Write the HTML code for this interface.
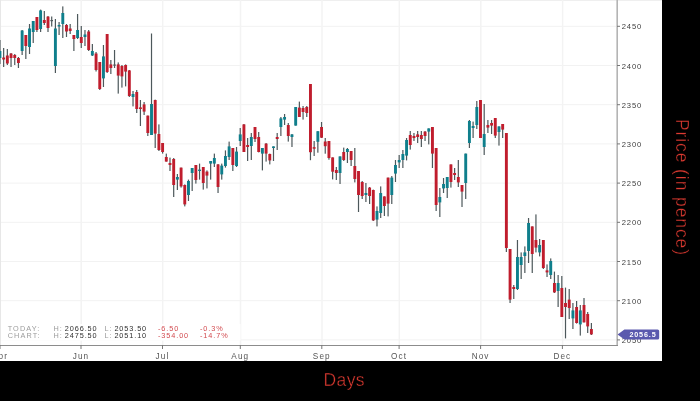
<!DOCTYPE html>
<html><head><meta charset="utf-8"><style>
html,body{margin:0;padding:0;background:#000;width:700px;height:401px;overflow:hidden}
svg{display:block;will-change:transform}
text{font-family:"Liberation Sans",sans-serif}
.yl{font-size:7.6px;fill:#3c3c3c;letter-spacing:0.85px}
.xl{font-size:8.2px;fill:#555;letter-spacing:1.1px}
.it{font-size:7.3px;letter-spacing:0.9px}
.g{fill:#9c9c9c;letter-spacing:1.1px} .k{fill:#2e2e2e} .rd{fill:#d24a4f}
.pl{font-size:7.2px;font-weight:bold;fill:#fff;letter-spacing:0.85px}
.tt{font-size:17.5px;fill:#dc3a31;stroke:#000;stroke-width:0.4px}
</style></head><body>
<svg width="700" height="401" viewBox="0 0 700 401">
<rect x="0" y="0" width="700" height="401" fill="#000"/>
<rect x="0" y="0" width="662" height="361" fill="#fff"/>
<rect x="0" y="0" width="662" height="1" fill="#efefef"/>
<rect x="0" y="339.40" width="616" height="1" fill="#f2f2f2"/>
<rect x="0" y="300.20" width="616" height="1" fill="#f2f2f2"/>
<rect x="0" y="261.00" width="616" height="1" fill="#f2f2f2"/>
<rect x="0" y="221.80" width="616" height="1" fill="#f2f2f2"/>
<rect x="0" y="182.60" width="616" height="1" fill="#f2f2f2"/>
<rect x="0" y="143.40" width="616" height="1" fill="#f2f2f2"/>
<rect x="0" y="104.20" width="616" height="1" fill="#f2f2f2"/>
<rect x="0" y="65.00" width="616" height="1" fill="#f2f2f2"/>
<rect x="0" y="25.80" width="616" height="1" fill="#f2f2f2"/>
<rect x="-0.55" y="0" width="1.5" height="345" fill="#f3f3f3"/>
<rect x="80.45" y="0" width="1.5" height="345" fill="#f3f3f3"/>
<rect x="161.95" y="0" width="1.5" height="345" fill="#f3f3f3"/>
<rect x="239.75" y="0" width="1.5" height="345" fill="#f3f3f3"/>
<rect x="321.25" y="0" width="1.5" height="345" fill="#f3f3f3"/>
<rect x="398.55" y="0" width="1.5" height="345" fill="#f3f3f3"/>
<rect x="480.05" y="0" width="1.5" height="345" fill="#f3f3f3"/>
<rect x="561.85" y="0" width="1.5" height="345" fill="#f3f3f3"/>
<rect x="0" y="0" width="1" height="345" fill="#e7e7e7"/>
<rect x="-0.65" y="40.00" width="1.2" height="24.00" fill="#4d585b"/>
<rect x="-1.50" y="51.00" width="2.9" height="7.00" fill="#0f7f8c"/>
<rect x="3.05" y="48.00" width="1.2" height="19.00" fill="#4d585b"/>
<rect x="2.20" y="57.50" width="2.9" height="2.00" fill="#c01d2d"/>
<rect x="6.74" y="49.00" width="1.2" height="16.00" fill="#4d585b"/>
<rect x="5.89" y="55.50" width="2.9" height="8.00" fill="#c01d2d"/>
<rect x="10.44" y="53.00" width="1.2" height="14.00" fill="#4d585b"/>
<rect x="9.59" y="53.50" width="2.9" height="4.50" fill="#c01d2d"/>
<rect x="14.14" y="54.00" width="1.2" height="11.00" fill="#4d585b"/>
<rect x="13.29" y="55.00" width="2.9" height="3.00" fill="#c01d2d"/>
<rect x="17.83" y="57.00" width="1.2" height="11.00" fill="#4d585b"/>
<rect x="16.98" y="58.00" width="2.9" height="5.00" fill="#c01d2d"/>
<rect x="21.53" y="30.00" width="1.2" height="25.00" fill="#4d585b"/>
<rect x="20.68" y="30.50" width="2.9" height="20.50" fill="#0f7f8c"/>
<rect x="25.23" y="35.00" width="1.2" height="24.00" fill="#4d585b"/>
<rect x="24.38" y="35.00" width="2.9" height="11.00" fill="#c01d2d"/>
<rect x="28.92" y="24.00" width="1.2" height="30.00" fill="#4d585b"/>
<rect x="28.07" y="28.50" width="2.9" height="18.50" fill="#0f7f8c"/>
<rect x="32.62" y="21.00" width="1.2" height="22.00" fill="#4d585b"/>
<rect x="31.77" y="21.00" width="2.9" height="11.00" fill="#0f7f8c"/>
<rect x="36.31" y="17.00" width="1.2" height="15.00" fill="#4d585b"/>
<rect x="35.46" y="17.00" width="2.9" height="13.00" fill="#c01d2d"/>
<rect x="40.01" y="9.60" width="1.2" height="22.40" fill="#4d585b"/>
<rect x="39.16" y="10.40" width="2.9" height="18.60" fill="#0f7f8c"/>
<rect x="43.71" y="11.00" width="1.2" height="14.00" fill="#4d585b"/>
<rect x="42.86" y="20.00" width="2.9" height="3.00" fill="#c01d2d"/>
<rect x="47.40" y="16.00" width="1.2" height="16.00" fill="#4d585b"/>
<rect x="46.55" y="16.60" width="2.9" height="11.40" fill="#c01d2d"/>
<rect x="51.10" y="16.50" width="1.2" height="10.00" fill="#4d585b"/>
<rect x="50.40" y="20.00" width="2.6" height="1.20" fill="#4d585b"/>
<rect x="54.80" y="19.00" width="1.2" height="54.00" fill="#4d585b"/>
<rect x="53.95" y="28.50" width="2.9" height="37.50" fill="#0f7f8c"/>
<rect x="58.49" y="22.00" width="1.2" height="13.00" fill="#4d585b"/>
<rect x="57.64" y="25.00" width="2.9" height="1.50" fill="#0f7f8c"/>
<rect x="62.19" y="6.40" width="1.2" height="31.60" fill="#4d585b"/>
<rect x="61.34" y="13.00" width="2.9" height="11.00" fill="#0f7f8c"/>
<rect x="65.89" y="24.00" width="1.2" height="13.00" fill="#4d585b"/>
<rect x="65.04" y="25.00" width="2.9" height="6.50" fill="#c01d2d"/>
<rect x="69.58" y="24.00" width="1.2" height="10.00" fill="#4d585b"/>
<rect x="68.73" y="28.50" width="2.9" height="2.50" fill="#c01d2d"/>
<rect x="73.28" y="35.00" width="1.2" height="16.00" fill="#4d585b"/>
<rect x="72.43" y="35.00" width="2.9" height="4.00" fill="#c01d2d"/>
<rect x="76.98" y="14.00" width="1.2" height="25.00" fill="#4d585b"/>
<rect x="76.13" y="30.00" width="2.9" height="8.00" fill="#0f7f8c"/>
<rect x="80.67" y="26.00" width="1.2" height="22.00" fill="#4d585b"/>
<rect x="79.82" y="37.00" width="2.9" height="6.00" fill="#c01d2d"/>
<rect x="84.37" y="30.00" width="1.2" height="16.00" fill="#4d585b"/>
<rect x="83.52" y="34.50" width="2.9" height="2.50" fill="#0f7f8c"/>
<rect x="88.07" y="30.00" width="1.2" height="21.00" fill="#4d585b"/>
<rect x="87.22" y="31.50" width="2.9" height="18.50" fill="#c01d2d"/>
<rect x="91.76" y="44.00" width="1.2" height="12.00" fill="#4d585b"/>
<rect x="90.91" y="51.00" width="2.9" height="4.50" fill="#0f7f8c"/>
<rect x="95.46" y="52.00" width="1.2" height="19.50" fill="#4d585b"/>
<rect x="94.61" y="53.50" width="2.9" height="16.50" fill="#c01d2d"/>
<rect x="99.16" y="62.00" width="1.2" height="28.00" fill="#4d585b"/>
<rect x="98.31" y="62.00" width="2.9" height="27.00" fill="#c01d2d"/>
<rect x="102.85" y="45.00" width="1.2" height="42.00" fill="#4d585b"/>
<rect x="102.00" y="56.40" width="2.9" height="22.00" fill="#0f7f8c"/>
<rect x="106.55" y="34.00" width="1.2" height="39.00" fill="#4d585b"/>
<rect x="105.70" y="34.00" width="2.9" height="38.00" fill="#c01d2d"/>
<rect x="110.25" y="60.00" width="1.2" height="14.00" fill="#4d585b"/>
<rect x="109.39" y="64.40" width="2.9" height="3.60" fill="#c01d2d"/>
<rect x="113.94" y="50.00" width="1.2" height="18.00" fill="#4d585b"/>
<rect x="113.24" y="64.50" width="2.6" height="1.20" fill="#4d585b"/>
<rect x="117.64" y="62.40" width="1.2" height="31.20" fill="#4d585b"/>
<rect x="116.79" y="64.40" width="2.9" height="11.20" fill="#c01d2d"/>
<rect x="121.33" y="65.00" width="1.2" height="22.60" fill="#4d585b"/>
<rect x="120.48" y="66.00" width="2.9" height="10.40" fill="#c01d2d"/>
<rect x="125.03" y="64.40" width="1.2" height="22.00" fill="#4d585b"/>
<rect x="124.18" y="65.00" width="2.9" height="6.60" fill="#c01d2d"/>
<rect x="128.73" y="70.00" width="1.2" height="27.00" fill="#4d585b"/>
<rect x="127.88" y="70.40" width="2.9" height="25.60" fill="#c01d2d"/>
<rect x="132.42" y="91.00" width="1.2" height="15.40" fill="#4d585b"/>
<rect x="131.57" y="94.00" width="2.9" height="3.00" fill="#0f7f8c"/>
<rect x="136.12" y="90.00" width="1.2" height="23.00" fill="#4d585b"/>
<rect x="135.27" y="92.00" width="2.9" height="17.00" fill="#c01d2d"/>
<rect x="139.82" y="100.00" width="1.2" height="26.00" fill="#4d585b"/>
<rect x="138.97" y="107.40" width="2.9" height="1.60" fill="#c01d2d"/>
<rect x="143.51" y="102.00" width="1.2" height="13.00" fill="#4d585b"/>
<rect x="142.66" y="104.40" width="2.9" height="7.20" fill="#c01d2d"/>
<rect x="147.21" y="115.60" width="1.2" height="20.40" fill="#4d585b"/>
<rect x="146.36" y="115.60" width="2.9" height="17.40" fill="#c01d2d"/>
<rect x="150.91" y="33.50" width="1.2" height="101.50" fill="#4d585b"/>
<rect x="150.06" y="104.00" width="2.9" height="31.00" fill="#0f7f8c"/>
<rect x="154.60" y="99.60" width="1.2" height="48.40" fill="#4d585b"/>
<rect x="153.75" y="100.00" width="2.9" height="33.60" fill="#c01d2d"/>
<rect x="158.30" y="124.40" width="1.2" height="26.60" fill="#4d585b"/>
<rect x="157.45" y="134.00" width="2.9" height="16.00" fill="#c01d2d"/>
<rect x="162.00" y="143.00" width="1.2" height="10.60" fill="#4d585b"/>
<rect x="161.15" y="143.00" width="2.9" height="9.00" fill="#c01d2d"/>
<rect x="165.69" y="153.60" width="1.2" height="8.00" fill="#4d585b"/>
<rect x="164.84" y="157.00" width="2.9" height="4.60" fill="#c01d2d"/>
<rect x="169.39" y="157.60" width="1.2" height="13.40" fill="#4d585b"/>
<rect x="168.54" y="163.00" width="2.9" height="2.00" fill="#c01d2d"/>
<rect x="173.09" y="158.00" width="1.2" height="39.00" fill="#4d585b"/>
<rect x="172.24" y="159.00" width="2.9" height="26.00" fill="#c01d2d"/>
<rect x="176.78" y="174.00" width="1.2" height="16.00" fill="#4d585b"/>
<rect x="175.93" y="177.00" width="2.9" height="2.60" fill="#0f7f8c"/>
<rect x="180.48" y="167.60" width="1.2" height="20.00" fill="#4d585b"/>
<rect x="179.63" y="167.60" width="2.9" height="18.80" fill="#c01d2d"/>
<rect x="184.17" y="184.40" width="1.2" height="22.00" fill="#4d585b"/>
<rect x="183.32" y="185.00" width="2.9" height="19.40" fill="#c01d2d"/>
<rect x="187.87" y="179.60" width="1.2" height="21.40" fill="#4d585b"/>
<rect x="187.02" y="181.00" width="2.9" height="14.00" fill="#0f7f8c"/>
<rect x="191.57" y="168.00" width="1.2" height="23.00" fill="#4d585b"/>
<rect x="190.72" y="168.00" width="2.9" height="5.00" fill="#0f7f8c"/>
<rect x="195.26" y="165.00" width="1.2" height="18.60" fill="#4d585b"/>
<rect x="194.41" y="165.00" width="2.9" height="15.00" fill="#c01d2d"/>
<rect x="198.96" y="163.60" width="1.2" height="16.00" fill="#4d585b"/>
<rect x="198.11" y="169.60" width="2.9" height="1.40" fill="#0f7f8c"/>
<rect x="202.66" y="167.00" width="1.2" height="22.60" fill="#4d585b"/>
<rect x="201.81" y="167.00" width="2.9" height="16.00" fill="#c01d2d"/>
<rect x="206.35" y="170.40" width="1.2" height="18.00" fill="#4d585b"/>
<rect x="205.50" y="171.60" width="2.9" height="4.00" fill="#c01d2d"/>
<rect x="210.05" y="161.00" width="1.2" height="18.60" fill="#4d585b"/>
<rect x="209.20" y="161.00" width="2.9" height="2.60" fill="#0f7f8c"/>
<rect x="213.75" y="153.60" width="1.2" height="13.40" fill="#4d585b"/>
<rect x="212.90" y="158.00" width="2.9" height="5.60" fill="#0f7f8c"/>
<rect x="217.44" y="164.00" width="1.2" height="29.00" fill="#4d585b"/>
<rect x="216.59" y="164.40" width="2.9" height="22.60" fill="#c01d2d"/>
<rect x="221.14" y="163.60" width="1.2" height="16.00" fill="#4d585b"/>
<rect x="220.29" y="165.60" width="2.9" height="8.80" fill="#0f7f8c"/>
<rect x="224.84" y="150.40" width="1.2" height="17.20" fill="#4d585b"/>
<rect x="223.99" y="156.00" width="2.9" height="10.00" fill="#0f7f8c"/>
<rect x="228.53" y="141.60" width="1.2" height="18.40" fill="#4d585b"/>
<rect x="227.68" y="146.40" width="2.9" height="10.60" fill="#0f7f8c"/>
<rect x="232.23" y="148.00" width="1.2" height="23.00" fill="#4d585b"/>
<rect x="231.38" y="148.00" width="2.9" height="17.00" fill="#c01d2d"/>
<rect x="235.93" y="147.00" width="1.2" height="20.00" fill="#4d585b"/>
<rect x="235.08" y="151.60" width="2.9" height="14.40" fill="#0f7f8c"/>
<rect x="239.62" y="128.00" width="1.2" height="18.00" fill="#4d585b"/>
<rect x="238.77" y="134.40" width="2.9" height="6.60" fill="#0f7f8c"/>
<rect x="243.32" y="124.00" width="1.2" height="28.00" fill="#4d585b"/>
<rect x="242.47" y="124.40" width="2.9" height="27.60" fill="#c01d2d"/>
<rect x="247.02" y="138.00" width="1.2" height="23.00" fill="#4d585b"/>
<rect x="246.17" y="145.00" width="2.9" height="2.00" fill="#c01d2d"/>
<rect x="250.71" y="133.00" width="1.2" height="27.00" fill="#4d585b"/>
<rect x="249.86" y="137.00" width="2.9" height="9.00" fill="#0f7f8c"/>
<rect x="254.41" y="127.00" width="1.2" height="15.00" fill="#4d585b"/>
<rect x="253.56" y="127.00" width="2.9" height="12.00" fill="#c01d2d"/>
<rect x="258.10" y="132.00" width="1.2" height="20.40" fill="#4d585b"/>
<rect x="257.25" y="137.00" width="2.9" height="15.00" fill="#c01d2d"/>
<rect x="261.80" y="148.00" width="1.2" height="22.40" fill="#4d585b"/>
<rect x="260.95" y="148.00" width="2.9" height="5.60" fill="#0f7f8c"/>
<rect x="265.50" y="143.00" width="1.2" height="18.60" fill="#4d585b"/>
<rect x="264.65" y="143.60" width="2.9" height="10.00" fill="#c01d2d"/>
<rect x="269.19" y="153.60" width="1.2" height="10.80" fill="#4d585b"/>
<rect x="268.34" y="154.00" width="2.9" height="6.40" fill="#c01d2d"/>
<rect x="272.89" y="146.40" width="1.2" height="14.60" fill="#4d585b"/>
<rect x="272.04" y="146.40" width="2.9" height="1.60" fill="#0f7f8c"/>
<rect x="276.59" y="133.00" width="1.2" height="17.00" fill="#4d585b"/>
<rect x="275.74" y="137.00" width="2.9" height="2.00" fill="#c01d2d"/>
<rect x="280.28" y="117.00" width="1.2" height="19.00" fill="#4d585b"/>
<rect x="279.43" y="118.40" width="2.9" height="8.60" fill="#0f7f8c"/>
<rect x="283.98" y="114.00" width="1.2" height="11.00" fill="#4d585b"/>
<rect x="283.13" y="117.00" width="2.9" height="2.60" fill="#0f7f8c"/>
<rect x="287.68" y="123.00" width="1.2" height="18.60" fill="#4d585b"/>
<rect x="286.83" y="125.00" width="2.9" height="11.00" fill="#c01d2d"/>
<rect x="291.37" y="134.00" width="1.2" height="13.00" fill="#4d585b"/>
<rect x="290.52" y="134.40" width="2.9" height="2.60" fill="#0f7f8c"/>
<rect x="295.07" y="107.00" width="1.2" height="18.60" fill="#4d585b"/>
<rect x="294.22" y="107.00" width="2.9" height="18.60" fill="#0f7f8c"/>
<rect x="298.77" y="101.60" width="1.2" height="15.40" fill="#4d585b"/>
<rect x="297.92" y="107.60" width="2.9" height="9.40" fill="#c01d2d"/>
<rect x="302.46" y="106.00" width="1.2" height="13.60" fill="#4d585b"/>
<rect x="301.61" y="108.00" width="2.9" height="4.00" fill="#c01d2d"/>
<rect x="306.16" y="106.00" width="1.2" height="11.00" fill="#4d585b"/>
<rect x="305.31" y="107.00" width="2.9" height="6.00" fill="#c01d2d"/>
<rect x="309.86" y="84.00" width="1.2" height="76.20" fill="#4d585b"/>
<rect x="309.01" y="84.00" width="2.9" height="68.20" fill="#c01d2d"/>
<rect x="313.55" y="141.00" width="1.2" height="15.00" fill="#4d585b"/>
<rect x="312.70" y="147.20" width="2.9" height="1.50" fill="#c01d2d"/>
<rect x="317.25" y="131.20" width="1.2" height="21.50" fill="#4d585b"/>
<rect x="316.40" y="131.20" width="2.9" height="10.60" fill="#0f7f8c"/>
<rect x="320.95" y="122.00" width="1.2" height="16.00" fill="#4d585b"/>
<rect x="320.10" y="127.00" width="2.9" height="10.70" fill="#c01d2d"/>
<rect x="324.64" y="138.00" width="1.2" height="15.70" fill="#4d585b"/>
<rect x="323.79" y="141.50" width="2.9" height="4.70" fill="#c01d2d"/>
<rect x="328.34" y="141.00" width="1.2" height="18.70" fill="#4d585b"/>
<rect x="327.49" y="141.00" width="2.9" height="17.00" fill="#c01d2d"/>
<rect x="332.03" y="157.40" width="1.2" height="22.00" fill="#4d585b"/>
<rect x="331.19" y="157.40" width="2.9" height="14.30" fill="#c01d2d"/>
<rect x="335.73" y="167.00" width="1.2" height="13.00" fill="#4d585b"/>
<rect x="334.88" y="170.00" width="2.9" height="3.00" fill="#c01d2d"/>
<rect x="339.43" y="156.40" width="1.2" height="27.60" fill="#4d585b"/>
<rect x="338.58" y="156.40" width="2.9" height="16.60" fill="#0f7f8c"/>
<rect x="343.12" y="147.60" width="1.2" height="13.40" fill="#4d585b"/>
<rect x="342.27" y="152.00" width="2.9" height="8.00" fill="#c01d2d"/>
<rect x="346.82" y="148.00" width="1.2" height="15.00" fill="#4d585b"/>
<rect x="345.97" y="149.00" width="2.9" height="3.00" fill="#0f7f8c"/>
<rect x="350.52" y="151.00" width="1.2" height="15.00" fill="#4d585b"/>
<rect x="349.67" y="151.00" width="2.9" height="9.00" fill="#c01d2d"/>
<rect x="354.21" y="148.00" width="1.2" height="34.40" fill="#4d585b"/>
<rect x="353.36" y="166.00" width="2.9" height="13.00" fill="#c01d2d"/>
<rect x="357.91" y="171.00" width="1.2" height="41.00" fill="#4d585b"/>
<rect x="357.06" y="171.00" width="2.9" height="24.00" fill="#c01d2d"/>
<rect x="361.61" y="181.00" width="1.2" height="18.00" fill="#4d585b"/>
<rect x="360.76" y="182.00" width="2.9" height="14.00" fill="#c01d2d"/>
<rect x="365.30" y="183.00" width="1.2" height="19.00" fill="#4d585b"/>
<rect x="364.45" y="193.00" width="2.9" height="2.00" fill="#0f7f8c"/>
<rect x="369.00" y="187.00" width="1.2" height="17.00" fill="#4d585b"/>
<rect x="368.15" y="187.60" width="2.9" height="8.40" fill="#c01d2d"/>
<rect x="372.70" y="189.60" width="1.2" height="31.40" fill="#4d585b"/>
<rect x="371.85" y="190.00" width="2.9" height="30.40" fill="#c01d2d"/>
<rect x="376.39" y="206.40" width="1.2" height="20.00" fill="#4d585b"/>
<rect x="375.54" y="211.00" width="2.9" height="8.60" fill="#0f7f8c"/>
<rect x="380.09" y="186.40" width="1.2" height="31.60" fill="#4d585b"/>
<rect x="379.24" y="193.00" width="2.9" height="20.00" fill="#0f7f8c"/>
<rect x="383.79" y="196.40" width="1.2" height="19.60" fill="#4d585b"/>
<rect x="382.94" y="196.40" width="2.9" height="9.60" fill="#c01d2d"/>
<rect x="387.48" y="177.60" width="1.2" height="38.80" fill="#4d585b"/>
<rect x="386.63" y="177.60" width="2.9" height="26.00" fill="#c01d2d"/>
<rect x="391.18" y="176.00" width="1.2" height="28.00" fill="#4d585b"/>
<rect x="390.33" y="177.60" width="2.9" height="17.40" fill="#0f7f8c"/>
<rect x="394.88" y="160.00" width="1.2" height="22.00" fill="#4d585b"/>
<rect x="394.03" y="165.00" width="2.9" height="8.60" fill="#0f7f8c"/>
<rect x="398.57" y="155.00" width="1.2" height="13.00" fill="#4d585b"/>
<rect x="397.72" y="160.00" width="2.9" height="2.40" fill="#0f7f8c"/>
<rect x="402.27" y="150.00" width="1.2" height="18.00" fill="#4d585b"/>
<rect x="401.42" y="154.00" width="2.9" height="6.00" fill="#0f7f8c"/>
<rect x="405.96" y="138.00" width="1.2" height="22.40" fill="#4d585b"/>
<rect x="405.12" y="140.00" width="2.9" height="15.60" fill="#0f7f8c"/>
<rect x="409.66" y="131.00" width="1.2" height="18.60" fill="#4d585b"/>
<rect x="408.81" y="135.00" width="2.9" height="10.00" fill="#c01d2d"/>
<rect x="413.36" y="133.00" width="1.2" height="8.00" fill="#4d585b"/>
<rect x="412.51" y="136.00" width="2.9" height="2.00" fill="#c01d2d"/>
<rect x="417.05" y="131.00" width="1.2" height="12.00" fill="#4d585b"/>
<rect x="416.20" y="134.40" width="2.9" height="2.60" fill="#c01d2d"/>
<rect x="420.75" y="131.00" width="1.2" height="16.00" fill="#4d585b"/>
<rect x="419.90" y="135.00" width="2.9" height="4.00" fill="#c01d2d"/>
<rect x="424.45" y="131.00" width="1.2" height="10.00" fill="#4d585b"/>
<rect x="423.60" y="131.60" width="2.9" height="4.40" fill="#c01d2d"/>
<rect x="428.14" y="128.40" width="1.2" height="16.00" fill="#4d585b"/>
<rect x="427.29" y="128.40" width="2.9" height="3.20" fill="#0f7f8c"/>
<rect x="431.84" y="127.00" width="1.2" height="41.00" fill="#4d585b"/>
<rect x="430.99" y="127.00" width="2.9" height="26.60" fill="#c01d2d"/>
<rect x="435.54" y="148.00" width="1.2" height="63.00" fill="#4d585b"/>
<rect x="434.69" y="148.00" width="2.9" height="57.00" fill="#c01d2d"/>
<rect x="439.23" y="188.00" width="1.2" height="29.00" fill="#4d585b"/>
<rect x="438.38" y="197.00" width="2.9" height="5.40" fill="#0f7f8c"/>
<rect x="442.93" y="178.00" width="1.2" height="15.00" fill="#4d585b"/>
<rect x="442.08" y="184.00" width="2.9" height="4.40" fill="#0f7f8c"/>
<rect x="446.63" y="177.00" width="1.2" height="21.00" fill="#4d585b"/>
<rect x="445.78" y="177.00" width="2.9" height="11.00" fill="#0f7f8c"/>
<rect x="450.32" y="164.40" width="1.2" height="23.20" fill="#4d585b"/>
<rect x="449.47" y="164.40" width="2.9" height="17.60" fill="#c01d2d"/>
<rect x="454.02" y="168.00" width="1.2" height="12.00" fill="#4d585b"/>
<rect x="453.17" y="173.00" width="2.9" height="2.00" fill="#c01d2d"/>
<rect x="457.72" y="160.00" width="1.2" height="27.00" fill="#4d585b"/>
<rect x="456.87" y="177.00" width="2.9" height="5.40" fill="#c01d2d"/>
<rect x="461.41" y="185.00" width="1.2" height="22.00" fill="#4d585b"/>
<rect x="460.56" y="185.00" width="2.9" height="6.60" fill="#c01d2d"/>
<rect x="465.11" y="153.60" width="1.2" height="45.40" fill="#4d585b"/>
<rect x="464.26" y="153.60" width="2.9" height="29.40" fill="#0f7f8c"/>
<rect x="468.81" y="120.00" width="1.2" height="28.00" fill="#4d585b"/>
<rect x="467.96" y="121.00" width="2.9" height="22.00" fill="#0f7f8c"/>
<rect x="472.50" y="121.60" width="1.2" height="16.40" fill="#4d585b"/>
<rect x="471.65" y="126.00" width="2.9" height="2.00" fill="#0f7f8c"/>
<rect x="476.20" y="101.00" width="1.2" height="28.00" fill="#4d585b"/>
<rect x="475.35" y="107.00" width="2.9" height="18.00" fill="#0f7f8c"/>
<rect x="479.89" y="100.00" width="1.2" height="38.00" fill="#4d585b"/>
<rect x="479.04" y="100.00" width="2.9" height="38.00" fill="#c01d2d"/>
<rect x="483.59" y="104.00" width="1.2" height="51.00" fill="#4d585b"/>
<rect x="482.74" y="134.00" width="2.9" height="13.00" fill="#0f7f8c"/>
<rect x="487.29" y="120.00" width="1.2" height="13.00" fill="#4d585b"/>
<rect x="486.44" y="125.00" width="2.9" height="2.60" fill="#c01d2d"/>
<rect x="490.98" y="120.00" width="1.2" height="14.00" fill="#4d585b"/>
<rect x="490.13" y="123.00" width="2.9" height="2.60" fill="#c01d2d"/>
<rect x="494.68" y="118.00" width="1.2" height="20.00" fill="#4d585b"/>
<rect x="493.83" y="118.00" width="2.9" height="17.60" fill="#c01d2d"/>
<rect x="498.38" y="126.40" width="1.2" height="19.20" fill="#4d585b"/>
<rect x="497.53" y="126.40" width="2.9" height="5.60" fill="#0f7f8c"/>
<rect x="502.07" y="124.00" width="1.2" height="14.00" fill="#4d585b"/>
<rect x="501.22" y="124.00" width="2.9" height="5.60" fill="#c01d2d"/>
<rect x="505.77" y="133.00" width="1.2" height="119.00" fill="#4d585b"/>
<rect x="504.92" y="133.00" width="2.9" height="115.00" fill="#c01d2d"/>
<rect x="509.47" y="249.00" width="1.2" height="54.00" fill="#4d585b"/>
<rect x="508.62" y="249.00" width="2.9" height="50.60" fill="#c01d2d"/>
<rect x="513.16" y="285.00" width="1.2" height="14.00" fill="#4d585b"/>
<rect x="512.31" y="287.00" width="2.9" height="2.00" fill="#c01d2d"/>
<rect x="516.86" y="240.00" width="1.2" height="50.00" fill="#4d585b"/>
<rect x="516.01" y="257.00" width="2.9" height="32.00" fill="#0f7f8c"/>
<rect x="520.56" y="252.40" width="1.2" height="26.60" fill="#4d585b"/>
<rect x="519.71" y="257.00" width="2.9" height="8.00" fill="#0f7f8c"/>
<rect x="524.25" y="246.40" width="1.2" height="26.60" fill="#4d585b"/>
<rect x="523.40" y="252.40" width="2.9" height="3.60" fill="#0f7f8c"/>
<rect x="527.95" y="218.00" width="1.2" height="45.00" fill="#4d585b"/>
<rect x="527.10" y="223.00" width="2.9" height="28.00" fill="#0f7f8c"/>
<rect x="531.65" y="226.40" width="1.2" height="46.60" fill="#4d585b"/>
<rect x="530.80" y="226.40" width="2.9" height="27.60" fill="#c01d2d"/>
<rect x="535.34" y="214.40" width="1.2" height="38.00" fill="#4d585b"/>
<rect x="534.49" y="240.00" width="2.9" height="7.60" fill="#c01d2d"/>
<rect x="539.04" y="239.00" width="1.2" height="17.40" fill="#4d585b"/>
<rect x="538.19" y="245.00" width="2.9" height="7.40" fill="#0f7f8c"/>
<rect x="542.74" y="240.00" width="1.2" height="29.00" fill="#4d585b"/>
<rect x="541.89" y="240.00" width="2.9" height="28.00" fill="#c01d2d"/>
<rect x="546.43" y="264.40" width="1.2" height="12.60" fill="#4d585b"/>
<rect x="545.58" y="270.40" width="2.9" height="2.00" fill="#c01d2d"/>
<rect x="550.13" y="258.40" width="1.2" height="20.60" fill="#4d585b"/>
<rect x="549.28" y="261.00" width="2.9" height="14.00" fill="#0f7f8c"/>
<rect x="553.83" y="271.60" width="1.2" height="21.40" fill="#4d585b"/>
<rect x="552.98" y="283.00" width="2.9" height="9.40" fill="#c01d2d"/>
<rect x="557.52" y="275.00" width="1.2" height="32.00" fill="#4d585b"/>
<rect x="556.67" y="283.00" width="2.9" height="8.00" fill="#0f7f8c"/>
<rect x="561.22" y="276.00" width="1.2" height="41.00" fill="#4d585b"/>
<rect x="560.37" y="288.00" width="2.9" height="29.00" fill="#c01d2d"/>
<rect x="564.91" y="287.60" width="1.2" height="50.80" fill="#4d585b"/>
<rect x="564.06" y="303.00" width="2.9" height="4.00" fill="#c01d2d"/>
<rect x="568.61" y="289.00" width="1.2" height="30.00" fill="#4d585b"/>
<rect x="567.76" y="299.60" width="2.9" height="8.40" fill="#c01d2d"/>
<rect x="572.31" y="303.00" width="1.2" height="26.00" fill="#4d585b"/>
<rect x="571.46" y="310.40" width="2.9" height="8.00" fill="#0f7f8c"/>
<rect x="576.00" y="301.00" width="1.2" height="22.60" fill="#4d585b"/>
<rect x="575.15" y="307.00" width="2.9" height="16.00" fill="#c01d2d"/>
<rect x="579.70" y="305.00" width="1.2" height="30.60" fill="#4d585b"/>
<rect x="578.85" y="310.40" width="2.9" height="14.00" fill="#0f7f8c"/>
<rect x="583.40" y="298.00" width="1.2" height="24.40" fill="#4d585b"/>
<rect x="582.55" y="305.00" width="2.9" height="17.40" fill="#c01d2d"/>
<rect x="587.09" y="312.00" width="1.2" height="21.00" fill="#4d585b"/>
<rect x="586.24" y="314.00" width="2.9" height="12.40" fill="#c01d2d"/>
<rect x="590.79" y="323.00" width="1.2" height="12.00" fill="#4d585b"/>
<rect x="589.94" y="329.00" width="2.9" height="5.40" fill="#c01d2d"/>
<rect x="616.4" y="0" width="1.6" height="345.8" fill="#b4b4b4"/>
<rect x="0" y="345" width="618" height="1" fill="#8c8c8c"/>
<rect x="617" y="339.40" width="3" height="1" fill="#777"/>
<text x="621.8" y="342.90" class="yl">2050</text>
<rect x="617" y="300.20" width="3" height="1" fill="#777"/>
<text x="621.8" y="303.70" class="yl">2100</text>
<rect x="617" y="261.00" width="3" height="1" fill="#777"/>
<text x="621.8" y="264.50" class="yl">2150</text>
<rect x="617" y="221.80" width="3" height="1" fill="#777"/>
<text x="621.8" y="225.30" class="yl">2200</text>
<rect x="617" y="182.60" width="3" height="1" fill="#777"/>
<text x="621.8" y="186.10" class="yl">2250</text>
<rect x="617" y="143.40" width="3" height="1" fill="#777"/>
<text x="621.8" y="146.90" class="yl">2300</text>
<rect x="617" y="104.20" width="3" height="1" fill="#777"/>
<text x="621.8" y="107.70" class="yl">2350</text>
<rect x="617" y="65.00" width="3" height="1" fill="#777"/>
<text x="621.8" y="68.50" class="yl">2400</text>
<rect x="617" y="25.80" width="3" height="1" fill="#777"/>
<text x="621.8" y="29.30" class="yl">2450</text>
<rect x="-0.50" y="345" width="1" height="4" fill="#777"/>
<text x="0.00" y="358.9" class="xl" text-anchor="middle">Apr</text>
<rect x="80.50" y="345" width="1" height="4" fill="#777"/>
<text x="81.00" y="358.9" class="xl" text-anchor="middle">Jun</text>
<rect x="162.00" y="345" width="1" height="4" fill="#777"/>
<text x="162.50" y="358.9" class="xl" text-anchor="middle">Jul</text>
<rect x="239.80" y="345" width="1" height="4" fill="#777"/>
<text x="240.30" y="358.9" class="xl" text-anchor="middle">Aug</text>
<rect x="321.30" y="345" width="1" height="4" fill="#777"/>
<text x="321.80" y="358.9" class="xl" text-anchor="middle">Sep</text>
<rect x="398.60" y="345" width="1" height="4" fill="#777"/>
<text x="399.10" y="358.9" class="xl" text-anchor="middle">Oct</text>
<rect x="480.10" y="345" width="1" height="4" fill="#777"/>
<text x="480.60" y="358.9" class="xl" text-anchor="middle">Nov</text>
<rect x="561.90" y="345" width="1" height="4" fill="#777"/>
<text x="562.40" y="358.9" class="xl" text-anchor="middle">Dec</text>
<rect x="1" y="324" width="239.5" height="16.6" fill="#fff"/>
<text x="7.7" y="330.9" class="it g">TODAY:</text>
<text x="7.7" y="337.6" class="it g">CHART:</text>
<text x="53.5" y="330.9" class="it g">H:</text>
<text x="53.5" y="337.6" class="it g">H:</text>
<text x="64.8" y="330.9" class="it k">2066.50</text>
<text x="64.8" y="337.6" class="it k">2475.50</text>
<text x="104.4" y="330.9" class="it g">L:</text>
<text x="104.4" y="337.6" class="it g">L:</text>
<text x="114.4" y="330.9" class="it k">2053.50</text>
<text x="114.4" y="337.6" class="it k">2051.10</text>
<text x="158" y="330.9" class="it rd">-6.50</text>
<text x="158" y="337.6" class="it rd">-354.00</text>
<text x="200" y="330.9" class="it rd">-0.3%</text>
<text x="200" y="337.6" class="it rd">-14.7%</text>
<path d="M617.6 334.5 L624.4 329.4 L657.6 329.4 Q659.2 329.4 659.2 331 L659.2 338 Q659.2 339.6 657.6 339.6 L624.4 339.6 Z" fill="#5a59ae"/>
<text x="629.4" y="336.9" class="pl">2056.5</text>
<text x="323.5" y="385.5" class="tt" textLength="41" lengthAdjust="spacing">Days</text>
<text transform="translate(676.2 119) rotate(90)" class="tt" x="0" y="0" textLength="136" lengthAdjust="spacing">Price (in pence)</text>
</svg>
</body></html>
